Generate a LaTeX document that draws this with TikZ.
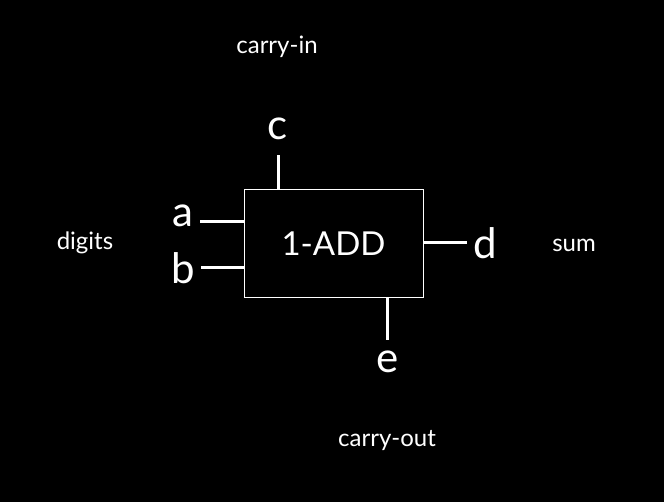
\documentclass[tikz,border=0pt]{standalone}
\usepackage{fontspec}
\setmainfont{Lato}
\usetikzlibrary{positioning}

\begin{document}
\begin{tikzpicture}[x=1pt,y=-1pt,
  pin/.style={font=\fontsize{42}{42}\selectfont,text=white,inner sep=0pt},
  tag/.style={font=\fontsize{24}{24}\selectfont,text=white,inner sep=0pt},
  wire/.style={white,line width=3pt}]
\fill[black] (0,0) rectangle (664,502);
\useasboundingbox (0,0) rectangle (664,502);
\node[draw=white,line width=1pt,minimum width=179pt,minimum height=108pt,
  text=white,font=\fontsize{33}{33}\selectfont] (add) at (333.5,244) {1-ADD};
% pins
\node[pin] (c) at (278,129) {c};
\node[pin] (a) at (183,216) {a};
\node[pin] (b) at (183,268) {b};
\node[pin] (d) at (485,243) {d};
\node[pin] (e) at (388,362) {e};
\coordinate (cin) at (278,190);
\coordinate (ain) at (244,222);
\coordinate (bin) at (244,268);
\coordinate (dout) at (423,243);
\coordinate (eout) at (387,298);
\draw[wire,shorten >=15pt] (cin) -- (cin |- c.south);
\draw[wire,shorten >=6pt] (ain) -- (a.east |- ain);
\draw[wire,shorten >=6pt] (bin) -- (b.east |- bin);
\draw[wire,shorten >=6pt] (dout) -- (d.west |- dout);
\draw[wire,shorten >=11pt] (eout) -- (eout |- e.north);
% labels
\node[tag] (cinlbl) at (277,47) {carry-in};
\node[tag] (dig) at (85,243) {digits};
\node[tag] (sum) at (574,245) {sum};
\node[tag] (coutlbl) at (387,441) {carry-out};
\end{tikzpicture}
\end{document}
